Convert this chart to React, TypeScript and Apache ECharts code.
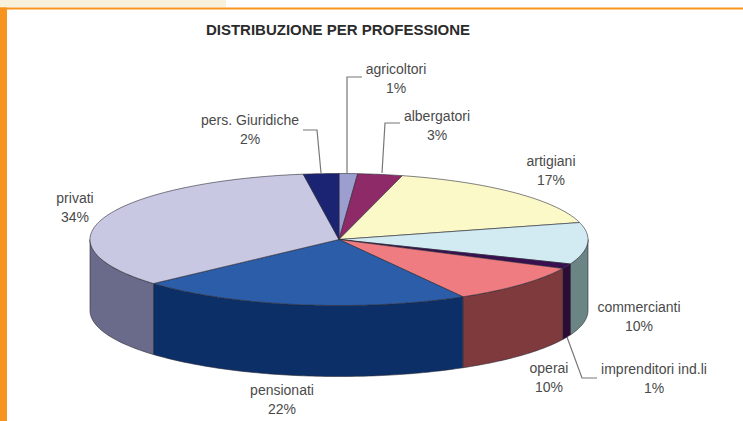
import React, { useEffect, useRef } from "react";
import * as echarts from "echarts";

const categories = ["agricoltori", "albergatori", "artigiani", "commercianti", "imprenditori ind.li", "operai", "pensionati", "privati", "pers. Giuridiche"];
const shares = [1.2, 2.9, 16.8, 10.2, 1.2, 9.5, 21.7, 34.4, 2.3];
const percentLabels = ["1%", "3%", "17%", "10%", "1%", "10%", "22%", "34%", "2%"];
const topColors = ["#9c9ed0", "#8f2a68", "#fcf9c8", "#d2eaf2", "#3a0f52", "#ee7c80", "#2b5da9", "#c8c8e2", "#1b2472"];
const sideColors = ["#4e4f68", "#481534", "#7e7d64", "#6a8583", "#2c0b34", "#7f3a3d", "#0b2f66", "#6a6a8a", "#0e1239"];

const labelAnchors = [[396, 78], [437, 125], [551, 170], [639, 316], [654, 378], [549, 377], [282, 399], [75, 207], [250, 129]];
const leaderLines = [
  [[347, 173], [347, 77], [362, 77]],
  [[382, 173], [385, 123], [400, 123]],
  [[321, 173], [317, 130], [303, 130]],
  [[567, 337], [582, 378], [597, 378]],
];

const CX = 339, CY = 239.5, RX = 249, RY = 66, DEPTH = 71;
const total = shares.reduce((a, b) => a + b, 0);
const startAngles = shares.map((_, i) => (shares.slice(0, i).reduce((a, b) => a + b, 0) / total) * 360);

const rim = (deg: number, dy = 0): number[] => {
  const r = (deg * Math.PI) / 180;
  return [CX + RX * Math.sin(r), CY - RY * Math.cos(r) + dy];
};
const arc = (from: number, to: number, dy = 0): number[][] => {
  const pts: number[][] = [];
  const n = Math.max(2, Math.ceil(to - from));
  for (let i = 0; i <= n; i++) pts.push(rim(from + ((to - from) * i) / n, dy));
  return pts;
};

const renderSide = (params: any, api: any) => {
  const i = params.dataIndex;
  const a = Math.max(startAngles[i], 90);
  const b = Math.min(startAngles[i] + (api.value(0) / total) * 360, 270);
  if (b <= a) return null;
  return {
    type: "polygon",
    shape: { points: [...arc(a, b), ...arc(a, b, DEPTH).reverse()] },
    style: { fill: sideColors[i], stroke: "#2a2a35", lineWidth: 0.6 },
  };
};
const renderTop = (params: any, api: any) => {
  const i = params.dataIndex;
  const a = startAngles[i];
  const b = a + (api.value(0) / total) * 360;
  return {
    type: "polygon",
    shape: { points: [[CX, CY], ...arc(a, b)] },
    style: { fill: topColors[i], stroke: "#2a2a35", lineWidth: 0.6 },
  };
};

export default function App() {
  const ref = useRef<HTMLDivElement>(null);
  useEffect(() => {
    document.body.style.margin = "0";
    const chart = echarts.init(ref.current!, undefined, { renderer: "svg" });
    const seriesData = shares.map((v, i) => ({ name: categories[i], value: [v] }));
    chart.setOption({
      animation: false,
      backgroundColor: "#ffffff",
      series: [
        { type: "custom", coordinateSystem: "none", renderItem: renderSide, data: seriesData, silent: true },
        { type: "custom", coordinateSystem: "none", renderItem: renderTop, data: seriesData, silent: true },
      ],
      graphic: [
        { type: "rect", shape: { x: 0, y: 0, width: 226, height: 7 }, style: { fill: "#f8f1db" }, silent: true },
        { type: "rect", shape: { x: 0, y: 7.5, width: 743, height: 2 }, style: { fill: "#f7941d" }, silent: true },
        { type: "rect", shape: { x: 0, y: 7.5, width: 7, height: 414 }, style: { fill: "#f7941d" }, silent: true },
        {
          type: "text", x: 338, y: 29, silent: true,
          style: { text: "DISTRIBUZIONE PER PROFESSIONE", align: "center", verticalAlign: "middle", fontFamily: "Liberation Sans", fontWeight: "bold", fontSize: 15, fill: "#2b2b2b" },
        },
        ...leaderLines.map((points) => ({
          type: "polyline", silent: true, shape: { points },
          style: { stroke: "#777777", lineWidth: 1.2, fill: "none" },
        })),
        ...categories.map((name, i) => ({
          type: "text", x: labelAnchors[i][0], y: labelAnchors[i][1], silent: true,
          style: { text: `${name}\n${percentLabels[i]}`, align: "center", verticalAlign: "middle", lineHeight: 19, fontFamily: "Liberation Sans", fontSize: 14, fill: "#4a4a4a" },
        })),
      ],
    });
    return () => chart.dispose();
  }, []);
  return <div ref={ref} style={{ width: 743, height: 421 }} />;
}
